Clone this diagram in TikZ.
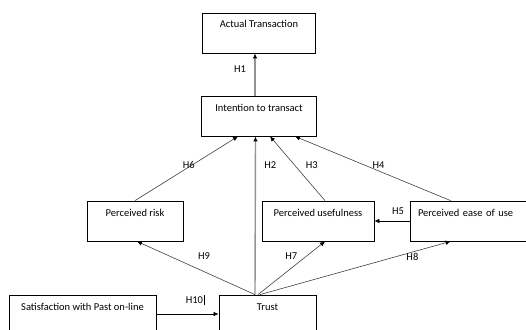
\documentclass[tikz,border=0pt]{standalone}
\usepackage{fontspec}
\setmainfont{Carlito}
\usetikzlibrary{arrows.meta}
\tikzstyle{every node}=[font=\fontsize{10.5}{12}\selectfont, text=black]
\tikzstyle{block} = [rectangle, draw, line width=0.8pt, text centered, minimum height=40pt, inner sep=0pt, text height=15pt, text depth=25pt]
\tikzstyle{line} = [draw, black!75, line width=0.6pt, -{Latex[length=5pt,width=4.5pt,black]}]
\tikzstyle{main line} = [line, gray!85, line width=1.4pt]

\begin{document}
\begin{tikzpicture}[x=1pt,y=-1pt]
    \useasboundingbox (0,0) rectangle (526,329);
    \clip (0,0) rectangle (526,329);
    % Place nodes
    \node [block, minimum width=113pt] (actual) at (259,33) {Actual Transaction};
    \node [block, minimum width=115pt, below of=actual, node distance=83pt] (intent) {Intention to transact};
    \node [block, minimum width=96pt, below of=intent, node distance=105pt, xshift=-124pt] (risk) {Perceived risk};
    \node [block, minimum width=112pt, below of=intent, node distance=105pt, xshift=59pt] (useful) {Perceived usefulness};
    \node [block, text width=112pt, align=left, inner xsep=8pt, right of=useful, node distance=156pt] (ease) {Perceived ease of use};
    \node [block, minimum width=97pt, below of=intent, node distance=199pt, xshift=8.5pt] (trust) {Trust};
    \node [block, minimum width=147pt, left of=trust, node distance=185pt] (satis) {Satisfaction with Past on-line};
    % Draw edges
    \path [main line] ([xshift=-4pt]intent.north) -- node[left, pos=0.63, xshift=-5pt] {H1} ([xshift=-4pt]actual.south);
    \path [main line] ([xshift=-12.5pt]trust.north) -- node[right, pos=0.82, xshift=5pt] {H2} ([xshift=-3.5pt]intent.south);
    \path [line] (risk.north) -- node[pos=0.56, xshift=-4pt] {H6} ([xshift=-21pt]intent.south);
    \path [line] ([xshift=7pt]useful.north) -- node[right, pos=0.56, xshift=8pt] {H3} ([xshift=11pt]intent.south);
    \path [line] ([xshift=41pt]ease.north west) -- node[pos=0.56, xshift=15pt] {H4} ([xshift=36pt]intent.south);
    \path [line, black] (ease.west) -- node[above, pos=0.33, yshift=3pt] {H5} (useful.east);
    \path [line] ([xshift=-12.5pt]trust.north) -- node[pos=0.72, xshift=34pt] {H9} ([xshift=2pt]risk.south);
    \path [line] ([xshift=-9.5pt]trust.north) -- node[pos=0.72, xshift=-15pt] {H7} ([xshift=7pt]useful.south);
    \path [line] ([xshift=-7.5pt]trust.north) -- node[pos=0.70, xshift=19pt] {H8} ([xshift=41pt]ease.south west);
    \path [line, black] ([yshift=1pt]satis.east) -- node[above, pos=0.62, yshift=5pt] {H10\hspace{0.5pt}\rule[-2pt]{0.5pt}{10pt}} ([yshift=1pt]trust.west);
\end{tikzpicture}
\end{document}
